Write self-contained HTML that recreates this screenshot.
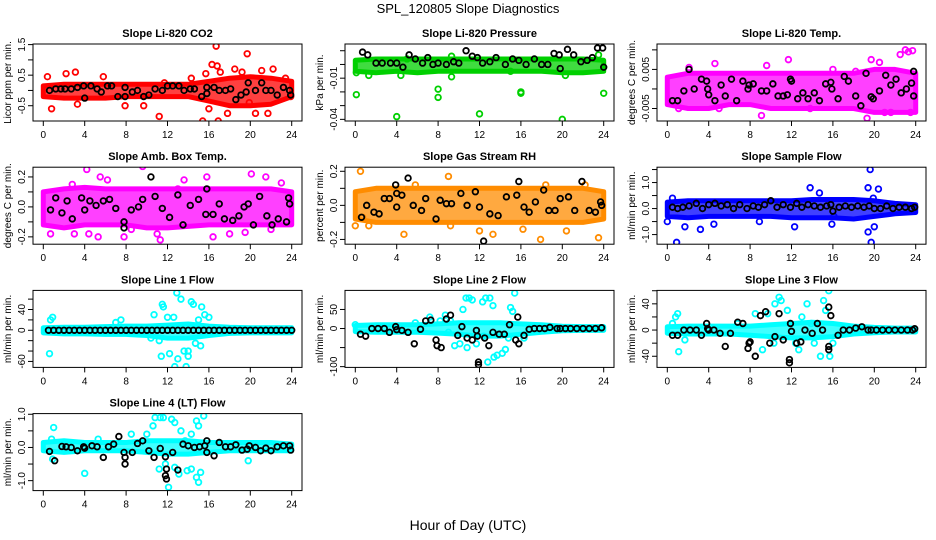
<!DOCTYPE html>
<html><head><meta charset="utf-8"><title>SPL_120805 Slope Diagnostics</title>
<style>
html,body{margin:0;padding:0;background:#fff;}
svg{display:block;font-family:"Liberation Sans",sans-serif;}
</style></head>
<body>
<svg id="chart" width="936" height="540" viewBox="0 0 936 540" xmlns="http://www.w3.org/2000/svg">
<rect width="936" height="540" fill="#fff"/>
<text x="468" y="13" text-anchor="middle" font-size="13">SPL_120805  Slope Diagnostics</text>
<text x="468" y="530" text-anchor="middle" font-size="14">Hour of Day (UTC)</text>
</svg>
<script>
// ---- data (hour of day / slope values) ----
const xTicks = [0,4,8,12,16,20,24];
const bandHours = [0,2,4,6,8,10,12,14,16,18,20,22,24];

const p1BandHi = [0.15,0.2,0.2,0.2,0.2,0.2,0.2,0.2,0.3,0.4,0.45,0.4,0.3];
const p1BandLo = [-0.2,-0.25,-0.25,-0.25,-0.2,-0.2,-0.2,-0.2,-0.35,-0.5,-0.5,-0.45,-0.2];
const p1ColX = [0.4,0.8,2.2,3.1,3.3,5.8,7.9,9.7,11.2,11.7,14.3,15.4,15.7,16.0,16.3,16.7,16.8,16.9,17.1,17.8,18.5,19.2,19.7,19.9,20.5,21.1,21.7,22.2,23.4,23.9];
const p1ColY = [0.45,-0.6,0.55,0.6,-0.45,0.45,-0.5,-0.5,-0.85,0.25,0.4,-1.0,0.55,-0.6,0.85,1.45,0.8,-1.0,0.6,-0.75,0.7,0.6,1.2,-0.4,-0.75,0.65,-0.75,0.7,0.4,-0.2];
const p1BlkX = [0.6,1.2,1.7,2.1,2.7,3.3,3.9,4.0,4.6,5.2,5.6,6.2,6.6,7.2,7.9,7.9,8.6,9.1,9.7,10.2,10.8,11.5,12.0,12.5,13.1,13.6,14.2,14.6,15.3,15.8,15.8,16.5,17.0,17.6,18.1,18.6,19.1,19.6,19.8,20.5,21.1,21.5,22.0,22.6,23.2,23.8,23.9];
const p1BlkY = [0.0,0.05,0.05,0.05,0.05,0.1,0.15,-0.25,0.15,0.05,-0.05,0.15,0.15,-0.2,-0.2,0.1,-0.05,0.0,-0.2,-0.15,0.05,0.0,0.15,0.15,0.15,0.0,0.05,0.05,-0.2,-0.1,0.1,0.1,0.0,0.0,0.05,-0.3,-0.15,-0.05,0.25,0.0,0.25,0.0,0.0,-0.15,0.1,0.0,-0.15];

const p2BandHi = [0.003,0.004,0.004,0.004,0.004,0.004,0.004,0.004,0.004,0.004,0.004,0.004,0.003];
const p2BandLo = [-0.005,-0.006,-0.005,-0.006,-0.005,-0.005,-0.005,-0.005,-0.005,-0.005,-0.006,-0.006,-0.005];
const p2ColX = [0.1,4.0,8.0,8.0,12.0,16.0,16.0,20.0,24.0,0.1,1.3,4.4,9.3,9.3,15.0,20.3,23.5,5.0];
const p2ColY = [-0.022,-0.038,-0.018,-0.024,-0.036,-0.02,-0.021,-0.040,-0.021,-0.006,-0.008,-0.008,-0.009,0.006,-0.005,-0.008,0.007,0.004];
const p2BlkX = [0.7,1.2,2.0,2.6,3.4,4.0,4.6,5.2,5.8,6.5,7.0,7.5,8.0,8.8,9.5,10.0,10.7,11.3,11.8,12.3,13.0,13.6,14.5,15.2,15.8,16.5,17.3,18.0,18.6,19.2,19.7,19.8,20.5,21.1,21.8,22.4,22.9,23.4,23.9,24.0];
const p2BlkY = [0.009,0.007,0.001,0.001,0.001,0.001,-0.002,0.007,0.004,0.001,0.005,0.0,0.001,0.0,0.002,0.001,0.010,0.006,0.005,0.001,0.002,0.005,0.0,0.004,0.003,0.0,0.004,0.0,0.0,0.008,0.007,-0.003,0.011,0.007,0.002,0.003,0.005,0.012,0.012,-0.002];

const p3BandHi = [0.003,0.004,0.004,0.004,0.004,0.004,0.004,0.004,0.004,0.004,0.005,0.005,0.004];
const p3BandLo = [-0.004,-0.005,-0.005,-0.004,-0.004,-0.005,-0.005,-0.005,-0.005,-0.005,-0.006,-0.006,-0.006];
const p3ColX = [4.6,9.1,9.6,11.7,19.3,19.7,20.5,21.0,21.6,22.5,23.0,23.3,23.7,23.5,2.1,1.1,5.0,13.8,18.2,16.0];
const p3ColY = [0.0065,-0.0068,0.006,0.0075,-0.0075,0.0075,0.0068,-0.006,-0.006,0.0088,0.010,0.0095,0.0098,-0.006,0.0055,-0.005,-0.005,-0.005,0.0045,0.005];
const p3BlkX = [0.5,1.0,1.6,2.1,2.6,3.3,3.8,3.9,4.0,4.6,5.2,5.6,6.2,6.7,7.3,7.8,7.9,8.3,9.1,9.6,10.2,10.7,11.2,11.6,11.9,12.0,12.6,13.1,13.6,14.2,14.7,15.3,15.8,15.9,16.5,17.1,17.5,18.2,18.7,19.2,19.7,19.9,20.5,21.1,21.6,22.1,22.6,23.1,23.6,23.8,23.8];
const p3BlkY = [-0.003,-0.003,-0.0005,0.005,0.0,0.0025,0.002,0.0,-0.0015,-0.003,0.001,-0.0018,0.0025,-0.003,0.002,0.0,0.001,0.0013,-0.0005,-0.0005,0.0013,-0.0018,-0.0018,-0.0015,0.0025,0.002,-0.0025,-0.001,-0.0025,-0.001,-0.003,0.0013,0.0017,0.0,-0.0025,0.0032,0.002,-0.0018,-0.0043,0.004,-0.002,-0.0025,-0.0005,0.0035,0.001,0.0025,-0.001,0.0,0.0015,0.0045,-0.0018];

const p4BandHi = [0.1,0.12,0.13,0.12,0.12,0.12,0.12,0.12,0.12,0.12,0.12,0.12,0.1];
const p4BandLo = [-0.12,-0.14,-0.12,-0.12,-0.12,-0.14,-0.14,-0.13,-0.12,-0.12,-0.12,-0.12,-0.12];
const p4ColX = [4.2,5.5,6.2,9.6,8.5,11.3,11.4,11.0,13.6,15.8,16.4,18.0,20.1,21.5,23.0,4.4,5.3,0.7,3.0,7.8,2.8,13.0,22.0,19.5];
const p4ColY = [0.25,0.2,0.18,0.27,-0.15,-0.22,-0.27,-0.18,0.18,0.2,-0.2,-0.18,0.22,0.2,0.16,-0.18,-0.2,-0.18,-0.18,-0.2,0.15,0.12,-0.15,-0.17];
const p4BlkX = [0.7,1.2,1.8,2.3,2.8,3.7,4.0,4.5,5.1,5.8,6.4,7.0,7.8,7.8,8.5,9.2,9.6,10.4,10.8,11.5,12.2,13.0,13.5,14.2,15.0,15.7,15.8,16.4,17.0,17.5,18.3,18.9,19.4,19.8,20.3,20.9,21.6,22.1,22.7,23.5,23.7,23.8];
const p4BlkY = [-0.02,0.06,-0.04,0.04,-0.08,0.06,-0.02,0.04,0.01,0.04,0.05,-0.01,-0.1,-0.14,-0.02,0.0,0.05,0.2,0.07,-0.01,-0.07,0.08,-0.12,0.01,0.05,-0.05,0.12,-0.05,0.02,-0.08,-0.09,-0.06,0.0,0.02,-0.12,0.07,-0.06,-0.12,-0.08,-0.1,0.06,0.02];

const p5BandHi = [0.08,0.1,0.1,0.1,0.1,0.1,0.1,0.1,0.1,0.1,0.1,0.1,0.08];
const p5BandLo = [-0.08,-0.1,-0.1,-0.1,-0.1,-0.1,-0.1,-0.1,-0.1,-0.1,-0.1,-0.1,-0.08];
const p5ColX = [0.5,0.7,1.3,4.7,5.8,9.0,9.2,12.0,13.3,16.2,17.9,20.4,23.5,22.2,18.4,0.0];
const p5ColY = [0.2,-0.07,-0.12,-0.17,0.12,0.17,-0.12,-0.15,-0.17,-0.14,-0.2,-0.15,-0.19,0.12,0.12,-0.12];
const p5BlkX = [0.6,1.1,1.8,2.3,2.8,3.3,3.9,4.0,4.0,4.5,5.1,5.6,6.4,6.8,7.8,8.2,8.8,9.3,10.2,10.8,11.6,12.0,12.4,13.0,13.8,14.6,15.6,15.8,16.3,16.8,17.4,18.2,18.7,19.3,19.8,20.6,21.2,21.9,22.6,23.2,23.7,23.8];
const p5BlkY = [-0.07,0.0,-0.04,-0.05,0.04,0.04,0.12,-0.01,0.07,0.06,0.16,0.0,-0.03,0.04,-0.08,0.03,0.01,0.01,0.07,0.0,0.08,-0.01,-0.21,-0.05,-0.06,0.05,0.06,0.14,-0.01,-0.04,0.02,0.09,-0.03,-0.03,0.04,0.05,-0.03,0.14,-0.03,-0.04,0.02,0.0];

const p6BandHi = [0.25,0.3,0.3,0.3,0.3,0.3,0.3,0.35,0.35,0.35,0.3,0.2,0.15];
const p6BandLo = [-0.3,-0.35,-0.3,-0.3,-0.3,-0.3,-0.35,-0.35,-0.35,-0.4,-0.3,-0.2,-0.15];
const p6ColX = [0.0,0.9,0.5,1.7,3.2,4.5,12.3,13.8,14.7,15.9,19.4,19.4,19.6,19.7,20.0,20.4,19.9,16.1,8.9];
const p6ColY = [-0.5,-1.3,0.4,-0.7,-0.8,-0.6,-0.7,0.8,0.6,-0.6,0.8,-0.9,1.5,-1.3,-0.7,0.75,0.4,-0.3,-0.5];
const p6BlkX = [0.5,1.0,1.5,2.1,2.8,3.4,4.0,4.6,5.2,5.8,6.4,7.0,7.7,8.3,8.8,9.4,10.0,10.6,11.2,11.9,12.5,13.0,13.6,14.2,14.8,15.4,15.8,16.0,16.6,17.2,17.8,18.4,19.0,19.5,20.0,20.6,21.2,21.8,22.4,23.0,23.6,23.9];
const p6BlkY = [0.05,0.0,0.05,0.1,0.2,0.0,0.15,0.2,0.1,0.15,0.0,0.15,0.0,0.1,0.05,0.15,0.3,0.05,0.15,0.05,0.2,0.05,0.15,0.1,0.05,0.1,0.15,-0.1,0.05,0.1,0.05,0.1,0.05,0.1,0.0,0.0,0.1,0.0,0.05,0.05,0.0,0.05];

const p7BandHi = [5,6,6,7,8,8,10,12,8,6,5,5,5];
const p7BandLo = [-5,-7,-7,-8,-8,-10,-15,-15,-10,-6,-5,-5,-5];
const p7ColX = [0.6,0.7,0.9,7.0,7.5,10.7,11.2,11.5,11.6,11.4,12.0,12.6,12.7,12.9,13.0,13.3,13.8,14.0,14.3,14.5,14.0,15.3,15.6,15.0,15.2,16.0,10.4,13.6,14.7,12.2];
const p7ColY = [-45,20,25,15,20,30,-20,50,45,-50,25,25,-70,72,-55,60,-70,-50,55,50,-40,45,30,20,-30,25,-15,-40,-25,-45];
const p7BlkX = [0.5,1.0,1.5,2.0,2.5,3.0,3.5,4.0,4.5,5.0,5.5,6.0,6.5,7.0,7.5,8.0,8.5,9.0,9.5,10.0,10.5,11.0,11.5,12.0,12.5,13.0,13.5,14.0,14.5,15.0,15.5,16.0,16.5,17.0,17.5,18.0,18.5,19.0,19.5,20.0,20.5,21.0,21.5,22.0,22.5,23.0,23.5,24.0];
const p7BlkY = [0,0,0,0,0,0,0,0,0,0,0,0,0,0,0,0,0,0,0,0,0,0,0,0,0,0,0,0,0,0,0,0,0,0,0,0,0,0,0,0,0,0,0,0,0,0,0,0];

const p8BandHi = [8,10,10,10,12,15,15,15,12,10,6,5,5];
const p8BandLo = [-8,-10,-10,-10,-12,-15,-20,-20,-15,-10,-6,-5,-5];
const p8ColX = [0.0,5.8,7.2,8.2,8.7,9.2,10.4,10.7,11.0,11.3,12.3,12.6,13.0,13.3,12.8,13.4,13.7,14.2,14.5,15.0,15.4,15.2,10.1,10.8,9.6,14.8,16.3,11.7,12.4,9.0];
const p8ColY = [10,15,30,20,35,20,50,80,80,75,70,80,80,60,-88,-75,-70,-65,-55,55,93,45,-40,-50,-45,-25,-25,-40,-20,-10];
const p8BlkX = [0.5,1.0,1.6,2.2,2.8,3.3,3.9,4.0,4.5,5.1,5.7,6.3,6.8,7.3,7.8,7.9,8.3,8.8,9.2,9.9,10.3,10.8,11.3,11.7,11.8,11.9,11.9,12.5,12.9,13.3,13.9,14.4,14.9,15.5,15.7,15.8,16.3,16.8,17.3,17.8,18.3,18.8,19.5,19.8,20.3,20.8,21.4,22.0,22.6,23.2,23.8];
const p8BlkY = [-15,-20,0,0,0,-10,5,-3,-5,-10,-40,-2,20,22,-30,-45,-50,25,35,-18,5,-25,-30,-5,-20,-88,-95,-25,-45,-10,-15,-15,10,-30,30,-40,-18,-2,0,0,0,3,0,0,0,0,0,0,0,0,2];

const p9BandHi = [5,6,6,6,6,8,10,12,10,6,4,3,3];
const p9BandLo = [-5,-6,-6,-6,-8,-10,-12,-12,-10,-6,-4,-3,-3];
const p9ColX = [0.5,0.8,1.0,1.1,1.7,6.8,8.5,9.7,10.4,10.8,11.0,11.6,12.4,12.7,13.5,13.9,14.2,14.8,15.1,15.6,15.7,16.0,15.3,10.3,9.2,13.0];
const p9ColY = [10,20,25,-33,-15,10,25,25,40,50,45,30,-20,-30,40,10,-20,-40,45,60,-40,-20,30,-20,-30,20];
const p9BlkX = [0.5,1.0,1.6,2.2,2.8,3.3,3.8,3.9,4.0,4.5,5.1,5.6,6.1,6.8,7.3,7.8,7.9,8.0,8.5,9.0,9.5,9.9,10.4,10.8,11.2,11.8,11.8,11.9,12.0,12.5,12.9,13.3,14.0,14.5,15.0,15.6,15.6,15.6,15.8,16.5,17.0,17.6,18.2,18.8,19.4,19.7,20.2,20.8,21.4,22.0,22.6,23.2,23.7,23.9];
const p9BlkY = [-8,-8,0,0,0,-8,10,2,0,0,-5,-25,-5,12,10,-28,-20,-18,-40,22,28,-20,-10,25,-15,-45,-50,10,-2,-20,-18,0,-5,10,0,35,-30,-25,22,-8,0,0,3,5,0,0,0,0,0,0,0,0,0,2];

const p10BandHi = [0.15,0.2,0.15,0.15,0.15,0.2,0.2,0.2,0.15,0.15,0.15,0.15,0.1];
const p10BandLo = [-0.1,-0.15,-0.1,-0.1,-0.1,-0.15,-0.2,-0.2,-0.15,-0.1,-0.1,-0.1,-0.1];
const p10ColX = [0.8,1.0,0.9,4.0,5.3,8.5,10.0,10.6,10.8,11.3,11.6,11.2,11.8,12.1,12.4,12.7,13.3,13.1,13.9,14.3,14.8,15.0,15.5,15.2,15.0,14.8,14.3,19.8,12.7,13.7];
const p10ColY = [0.25,0.6,-0.35,-0.78,0.25,0.4,0.4,0.65,0.9,0.9,0.9,-0.65,-0.5,-1.2,0.85,0.75,0.5,-0.8,-0.7,0.4,0.8,0.65,0.95,-0.75,-1.05,-0.9,-0.65,-0.4,-0.6,0.2];
const p10BlkX = [0.6,1.1,1.8,2.2,2.7,3.3,3.9,4.0,4.7,5.2,5.8,6.3,6.8,7.3,7.8,7.9,7.9,8.6,9.1,9.6,10.2,10.7,11.3,11.8,11.8,11.9,11.9,12.5,13.0,13.5,14.0,14.6,15.1,15.6,15.8,15.8,16.5,17.0,17.6,18.1,18.6,19.2,19.7,19.9,20.5,21.0,21.5,22.0,22.6,23.2,23.8,23.9];
const p10BlkY = [-0.12,-0.4,0.03,0.02,0.0,-0.1,0.02,-0.02,0.05,0.02,-0.3,0.02,0.1,0.33,-0.15,-0.5,-0.3,-0.15,0.12,0.2,-0.1,-0.3,-0.03,-0.28,-0.85,-0.95,-0.65,-0.15,-0.68,0.1,0.05,0.0,0.02,0.05,0.2,-0.15,-0.25,0.15,0.02,0.02,0.08,-0.08,-0.05,0.05,0.0,-0.1,-0.02,-0.1,0.02,0.05,0.05,-0.08];

const p1Ticks = [-0.5,0,0.5,1,1.5], p1TickLabels = ["-0.5","","0.5","","1.5"];
const p2Ticks = [-0.04,-0.03,-0.02,-0.01,0,0.01], p2TickLabels = ["-0.04","","","-0.01","",""];
const p3Ticks = [-0.005,0,0.005,0.01], p3TickLabels = ["-0.005","","0.005",""];
const p4Ticks = [-0.2,-0.1,0,0.1,0.2], p4TickLabels = ["-0.2","","0.0","","0.2"];
const p5Ticks = [-0.2,-0.1,0,0.1,0.2], p5TickLabels = ["-0.2","","0.0","","0.2"];
const p6Ticks = [-1,-0.5,0,0.5,1,1.5], p6TickLabels = ["-1.0","","0.0","","1.0",""];
const p7Ticks = [-60,-40,-20,0,20,40,60], p7TickLabels = ["-60","","","0","","40",""];
const p8Ticks = [-100,-50,0,50], p8TickLabels = ["-100","","0","50"];
const p9Ticks = [-40,-20,0,20,40,60], p9TickLabels = ["-40","","0","","40",""];
const p10Ticks = [-1,-0.5,0,0.5,1], p10TickLabels = ["-1.0","","0.0","","1.0"];

const panels = [
 {key:'co2',title:'Slope Li-820 CO2',ylab:'Licor ppm per min.',col:0,row:0,ylim:[-1.0,1.52],color:'#ff0000',hi:p1BandHi,lo:p1BandLo,cx:p1ColX,cy:p1ColY,bx:p1BlkX,by:p1BlkY,ticks:p1Ticks,tl:p1TickLabels},
 {key:'pressure',title:'Slope Li-820 Pressure',ylab:'kPa per min.',col:1,row:0,ylim:[-0.0412,0.0149],color:'#00d000',hi:p2BandHi,lo:p2BandLo,cx:p2ColX,cy:p2ColY,bx:p2BlkX,by:p2BlkY,ticks:p2Ticks,tl:p2TickLabels},
 {key:'temp',title:'Slope Li-820 Temp.',ylab:'degrees C per min.',col:2,row:0,ylim:[-0.0082,0.0115],color:'#ff00ff',hi:p3BandHi,lo:p3BandLo,cx:p3ColX,cy:p3ColY,bx:p3BlkX,by:p3BlkY,ticks:p3Ticks,tl:p3TickLabels},
 {key:'ambbox',title:'Slope Amb. Box Temp.',ylab:'degrees C per min.',col:0,row:1,ylim:[-0.249,0.265],color:'#ff00ff',hi:p4BandHi,lo:p4BandLo,cx:p4ColX,cy:p4ColY,bx:p4BlkX,by:p4BlkY,ticks:p4Ticks,tl:p4TickLabels},
 {key:'rh',title:'Slope Gas Stream RH',ylab:'percent per min.',col:1,row:1,ylim:[-0.228,0.224],color:'#ff8c00',hi:p5BandHi,lo:p5BandLo,cx:p5ColX,cy:p5ColY,bx:p5BlkX,by:p5BlkY,ticks:p5Ticks,tl:p5TickLabels},
 {key:'sampleflow',title:'Slope Sample Flow',ylab:'ml/min per min.',col:2,row:1,ylim:[-1.37,1.59],color:'#0000ff',hi:p6BandHi,lo:p6BandLo,cx:p6ColX,cy:p6ColY,bx:p6BlkX,by:p6BlkY,ticks:p6Ticks,tl:p6TickLabels},
 {key:'line1',title:'Slope Line 1 Flow',ylab:'ml/min per min.',col:0,row:2,ylim:[-71.5,76.8],color:'#00ffff',hi:p7BandHi,lo:p7BandLo,cx:p7ColX,cy:p7ColY,bx:p7BlkX,by:p7BlkY,ticks:p7Ticks,tl:p7TickLabels},
 {key:'line2',title:'Slope Line 2 Flow',ylab:'ml/min per min.',col:1,row:2,ylim:[-102,100],color:'#00ffff',hi:p8BandHi,lo:p8BandLo,cx:p8ColX,cy:p8ColY,bx:p8BlkX,by:p8BlkY,ticks:p8Ticks,tl:p8TickLabels},
 {key:'line3',title:'Slope Line 3 Flow',ylab:'ml/min per min.',col:2,row:2,ylim:[-57,60.5],color:'#00ffff',hi:p9BandHi,lo:p9BandLo,cx:p9ColX,cy:p9ColY,bx:p9BlkX,by:p9BlkY,ticks:p9Ticks,tl:p9TickLabels},
 {key:'line4',title:'Slope Line 4 (LT) Flow',ylab:'ml/min per min.',col:0,row:3,ylim:[-1.3,1.02],color:'#00ffff',hi:p10BandHi,lo:p10BandLo,cx:p10ColX,cy:p10ColY,bx:p10BlkX,by:p10BlkY,ticks:p10Ticks,tl:p10TickLabels}
];

const NS='http://www.w3.org/2000/svg';
const svg=document.getElementById('chart');
function mk(tag,attrs,parent){const e=document.createElementNS(NS,tag);for(const k in attrs)e.setAttribute(k,attrs[k]);(parent||svg).appendChild(e);return e;}

panels.forEach(p=>{
  const ox=p.col*312, top=44+123.2*p.row, bot=top+77;
  const left=ox+33, right=ox+302;
  const xs=h=>ox+43.3+h*(248.4/24);
  const ys=v=>bot-(v-p.ylim[0])/(p.ylim[1]-p.ylim[0])*(bot-top);
  const g=mk('g',{});
  
  
  const clipId='clip-'+p.key;
  const cp=mk('clipPath',{id:clipId},g); mk('rect',{x:left,y:top,width:right-left,height:bot-top},cp);
  const t=mk('text',{x:(left+right)/2,y:top-7,'text-anchor':'middle','font-size':'11','font-weight':'bold'},g);
  t.textContent=p.title;
  
  
  const yl=mk('text',{x:0,y:0,'text-anchor':'middle','font-size':'10',transform:`translate(${ox+11},${(top+bot)/2}) rotate(-90)`},g);
  yl.textContent=p.ylab;
  
  
  const plot=mk('g',{'clip-path':`url(#${clipId})`},g);
  
  
  let d='';
  bandHours.forEach((h,i)=>{d+=(i?'L':'M')+xs(h).toFixed(1)+' '+ys(p.hi[i]).toFixed(1);});
  for(let i=bandHours.length-1;i>=0;i--) d+='L'+xs(bandHours[i]).toFixed(1)+' '+ys(p.lo[i]).toFixed(1);
  const band=mk('path',{d:d+'Z',fill:p.color,'fill-opacity':'0.75',stroke:p.color,'stroke-width':'5','stroke-linejoin':'round'},plot);
  
  
  p.cx.forEach((h,i)=>{
    const c=mk('circle',{cx:xs(h),cy:ys(p.cy[i]),r:2.8,fill:'none',stroke:p.color,'stroke-width':1.8},plot);
    
    
  });
  p.bx.forEach((h,i)=>{
    const c=mk('circle',{cx:xs(h),cy:ys(p.by[i]),r:2.8,fill:'none',stroke:'#000','stroke-width':1.8},plot);
    
    
  });
  const box=mk('rect',{x:left,y:top,width:right-left,height:bot-top,fill:'none',stroke:'#000','stroke-width':1},g);
  
  
  xTicks.forEach(v=>{
    mk('line',{x1:xs(v),x2:xs(v),y1:bot,y2:bot+5,stroke:'#000'},g);
    const tx=mk('text',{x:xs(v),y:bot+17,'text-anchor':'middle','font-size':'10'},g);
    tx.textContent=v;
    
    
  });
  p.ticks.forEach((v,i)=>{
    const y=ys(v);
    mk('line',{x1:left-5,x2:left,y1:y,y2:y,stroke:'#000'},g);
    if(p.tl[i]){
      const tx=mk('text',{x:0,y:0,'text-anchor':'middle','font-size':'10',transform:`translate(${left-8},${y}) rotate(-90)`},g);
      tx.textContent=p.tl[i];
      
      
    }
  });
});
</script>
</body></html>
